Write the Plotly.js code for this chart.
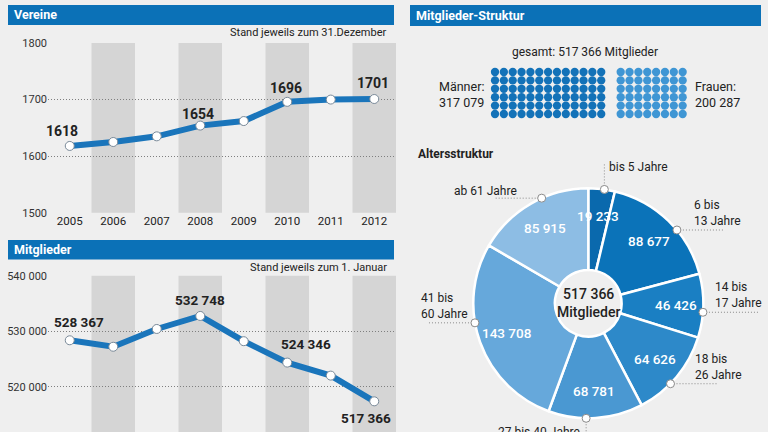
<!DOCTYPE html>
<html><head><meta charset="utf-8">
<script src="https://cdn.plot.ly/plotly-3.0.1.min.js"></script>
<style>html,body{margin:0;padding:0;background:#efefef;}#chart{width:768px;height:432px;}</style>
</head><body><div id="chart"></div>
<script>
// ---------- DATA ----------
const years = ['2005','2006','2007','2008','2009','2010','2011','2012'];
const vereine = [1618, 1625, 1635, 1654, 1662, 1696, 1700, 1701];
const mitglieder = [528367, 527200, 530400, 532748, 528200, 524346, 522000, 517366];
const vereineTicks = [1500, 1600, 1700, 1800];
const mitgliederTicks = [520000, 530000, 540000];
const gesamt = 517366;
const maenner = 317079;
const frauen = 200287;
const dotCols = [13, 8];   // columns of dots: Männer, Frauen
const dotRows = 6;
const ageGroups = ['bis 5 Jahre','6 bis<br>13 Jahre','14 bis<br>17 Jahre','18 bis<br>26 Jahre','27 bis 40 Jahre','41 bis<br>60 Jahre','ab 61 Jahre'];
const ageValues = [19233, 88677, 46426, 64626, 68781, 143708, 85915];
const ageColors = ['#0a69ad','#0b73b9','#1a7fc3','#2d89c9','#4a98d2','#66a8db','#8dbde4'];

// ---------- HELPERS ----------
const W = 768, H = 432;
const px = v => v / W;
const py = v => 1 - v / H;
const fmt = n => String(n).replace(/\B(?=(\d{3})+(?!\d))/g, ' ');
const FONT = 'Roboto, "Open Sans", sans-serif';
const BLUE = '#0b71b7';
const LINE = '#1a75bb';

const shapes = [], annotations = [], traces = [];

// header bars
function header(x0, x1, y0, y1, text) {
  shapes.push({type:'rect', xref:'paper', yref:'paper', x0:px(x0), x1:px(x1), y0:py(y1), y1:py(y0),
    fillcolor:BLUE, line:{width:0}, layer:'above'});
  annotations.push({xref:'paper', yref:'paper', x:px(x0+4), y:py((y0+y1)/2), xanchor:'left', yanchor:'middle',
    text:'<b>'+text+'</b>', showarrow:false, font:{family:FONT, size:12.5, color:'#fff'}});
}
header(8, 394, 5, 25, 'Vereine');
header(8, 394, 240, 259.5, 'Mitglieder');
header(410, 761, 5, 26, 'Mitglieder-Struktur');

// alternating bands
years.forEach((y, i) => {
  if (i % 2 === 1) {
    ['', '2'].forEach(s => shapes.push({type:'rect', xref:'x'+s, yref:'y'+s+' domain', x0:i-0.5, x1:i+0.5, y0:0, y1:1,
      fillcolor:'#d5d5d5', line:{width:0}, layer:'below'}));
  }
});

// line traces
const lineStyle = {color:LINE, width:6};
const mk = {size:9, color:'#fff', line:{color:'#7a8a99', width:1}};
traces.push({x:years, y:vereine, type:'scatter', mode:'lines+markers', line:lineStyle, marker:mk, xaxis:'x', yaxis:'y', hoverinfo:'skip', showlegend:false, cliponaxis:false});
traces.push({x:years, y:mitglieder, type:'scatter', mode:'lines+markers', line:lineStyle, marker:mk, xaxis:'x2', yaxis:'y2', hoverinfo:'skip', showlegend:false, cliponaxis:false});

// value labels (x given as category index)
const vLab = [[0,-8,15],[3,-2,12],[5,-1,13.5],[7,-1,15.5]];
vLab.forEach(([i,dx,dy]) => annotations.push({xref:'x', yref:'y', x:i, y:vereine[i], xshift:dx, yshift:dy,
  text:'<b>'+vereine[i]+'</b>', showarrow:false, font:{family:FONT, size:14, color:'#222'}}));
const mLab = [[0,9,18.5],[3,0,15.5],[5,19,19],[7,-8.5,-16.5]];
mLab.forEach(([i,dx,dy]) => annotations.push({xref:'x2', yref:'y2', x:i, y:mitglieder[i], xshift:dx, yshift:dy,
  text:'<b>'+fmt(mitglieder[i])+'</b>', showarrow:false, font:{family:FONT, size:13.5, color:'#222'}}));

annotations.push({xref:'paper', yref:'paper', x:px(389), y:py(33), xanchor:'right', yanchor:'middle', showarrow:false,
  text:'Stand jeweils zum 31.Dezember', font:{family:FONT, size:11, color:'#222'}});
annotations.push({xref:'paper', yref:'paper', x:px(389), y:py(267), xanchor:'right', yanchor:'middle', showarrow:false,
  text:'Stand jeweils zum 1. Januar', font:{family:FONT, size:11, color:'#222'}});

// ---------- DOT GRID ----------
const gap = 1.2;
['#1372b8','#3f96d4'].forEach((c, g) => {
  const xs = [], ys = [];
  const start = g === 0 ? 0 : dotCols[0] + gap;
  for (let col = 0; col < dotCols[g]; col++) for (let r = 0; r < dotRows; r++) { xs.push(start + col); ys.push(r); }
  traces.push({x:xs, y:ys, type:'scatter', mode:'markers', marker:{size:8.3, color:c}, xaxis:'x3', yaxis:'y3', hoverinfo:'skip', showlegend:false, cliponaxis:false});
});
annotations.push({xref:'paper', yref:'paper', x:px(585), y:py(52), xanchor:'center', yanchor:'middle', showarrow:false,
  text:'gesamt: '+fmt(gesamt)+' Mitglieder', font:{family:FONT, size:12, color:'#222'}});
annotations.push({xref:'paper', yref:'paper', x:px(486), y:py(94.5), xanchor:'right', yanchor:'middle', align:'left', showarrow:false,
  text:'Männer:<br>'+fmt(maenner), font:{family:FONT, size:12.5, color:'#222'}});
annotations.push({xref:'paper', yref:'paper', x:px(693), y:py(94.5), xanchor:'left', yanchor:'middle', align:'left', showarrow:false,
  text:'Frauen:<br>'+fmt(frauen), font:{family:FONT, size:12.5, color:'#222'}});

// ---------- DONUT ----------
const CX = 588.3, CY = 303.3, R = 115;
traces.push({type:'pie', values:ageValues, labels:ageGroups, sort:false, direction:'clockwise', rotation:0, hole:0.29,
  marker:{colors:ageColors, line:{color:'#fff', width:2.5}}, textinfo:'none', hoverinfo:'skip', showlegend:false,
  domain:{x:[px(CX-R), px(CX+R)], y:[py(CY+R), py(CY-R)]}});
annotations.push({xref:'paper', yref:'paper', x:px(416), y:py(154), xanchor:'left', yanchor:'middle', showarrow:false,
  text:'<b>Altersstruktur</b>', font:{family:FONT, size:12, color:'#222'}});
annotations.push({xref:'paper', yref:'paper', x:px(CX), y:py(CY), xanchor:'center', yanchor:'middle', showarrow:false,
  text:fmt(gesamt)+'<br>Mitglieder', font:{family:FONT, size:14, color:'#222', weight:500}});

const total = ageValues.reduce((a,b)=>a+b,0);
// callout layout per slice: leader direction/length, text offset, anchors
const callout = [
  {dir:'v', len:-27, tx:4,  ty:-22, xa:'left',  ya:'middle'},
  {dir:'h', len:47,  tx:16, ty:-1,  xa:'left',  ya:'bottom'},
  {dir:'h', len:56,  tx:11, ty:-1,  xa:'left',  ya:'bottom'},
  {dir:'h', len:46,  tx:23, ty:-1,  xa:'left',  ya:'bottom'},
  {dir:'v', len:30,  tx:-5, ty:6,   xa:'right', ya:'top'},
  {dir:'h', len:-47, tx:-55,ty:-1,  xa:'left',  ya:'bottom'},
  {dir:'h', len:-48, tx:-23.5,ty:1, xa:'right', ya:'bottom'}
];
let cum = 0;
ageValues.forEach((v, i) => {
  const a0 = cum / total * 2 * Math.PI;
  const a1 = (cum + v) / total * 2 * Math.PI;
  cum += v;
  const am = (a0 + a1) / 2;
  const lr = 0.76 * R;
  annotations.push({xref:'paper', yref:'paper', x:px(CX + lr*Math.sin(am)), y:py(CY - lr*Math.cos(am)),
    xanchor:'center', yanchor:'middle', showarrow:false, text:fmt(v), font:{family:FONT, size:13.5, color:'#fff', weight:500}});
  const ac = a0 + 0.6 * (a1 - a0);
  const ox = CX + R*Math.sin(ac), oy = CY - R*Math.cos(ac);
  const c = callout[i];
  const ex = c.dir === 'h' ? ox + c.len : ox;
  const ey = c.dir === 'v' ? oy + c.len : oy;
  shapes.push({type:'line', xref:'paper', yref:'paper', x0:px(ox), y0:py(oy), x1:px(ex), y1:py(ey),
    line:{color:'#8a8a8a', width:1, dash:'1px,2px'}, layer:'above'});
  shapes.push({type:'circle', xref:'paper', yref:'paper', x0:px(ox-4), x1:px(ox+4), y0:py(oy+4), y1:py(oy-4),
    fillcolor:'#fff', line:{color:'#8a8a8a', width:1}, layer:'above'});
  annotations.push({xref:'paper', yref:'paper', x:px(ox + c.tx), y:py(oy + c.ty), xanchor:c.xa, yanchor:c.ya, align:'left',
    borderpad:0, showarrow:false, text:ageGroups[i], font:{family:FONT, size:12, color:'#222'}});
});

// ---------- LAYOUT ----------
const gridAx = {showgrid:true, gridcolor:'#7f7f7f', griddash:'1px,2px', gridwidth:1, zeroline:false, showline:false, ticks:'',
  tickfont:{family:FONT, size:11, color:'#333'}};
const layout = {
  width:W, height:H, margin:{l:0, r:0, t:0, b:0}, paper_bgcolor:'#efefef', plot_bgcolor:'rgba(0,0,0,0)',
  separators:', ', showlegend:false, font:{family:FONT},
  xaxis:{domain:[px(48), px(396)], type:'category', range:[-0.5, 7.5], showgrid:false, zeroline:false, showline:false, ticks:'',
    tickfont:{family:FONT, size:11.5, color:'#222'}, anchor:'y', fixedrange:true},
  yaxis:Object.assign({}, gridAx, {domain:[py(212.7), py(43)], range:[1500, 1800], tickvals:vereineTicks, anchor:'x', fixedrange:true}),
  xaxis2:{domain:[px(48), px(396)], type:'category', range:[-0.5, 7.5], showgrid:false, zeroline:false, showline:false, ticks:'',
    showticklabels:false, anchor:'y2', fixedrange:true},
  yaxis2:Object.assign({}, gridAx, {domain:[0, py(275.7)], range:[511840, 540000], tickvals:mitgliederTicks, tickformat:',d', anchor:'x2', fixedrange:true}),
  xaxis3:{domain:[px(480), px(700)], range:[-1.695, 23.16], visible:false, anchor:'y3', fixedrange:true},
  yaxis3:{domain:[py(125), py(60)], range:[6.31, -1.43], visible:false, anchor:'x3', fixedrange:true},
  shapes:shapes, annotations:annotations
};
Plotly.newPlot('chart', traces, layout, {displayModeBar:false, staticPlot:true});
</script></body></html>
